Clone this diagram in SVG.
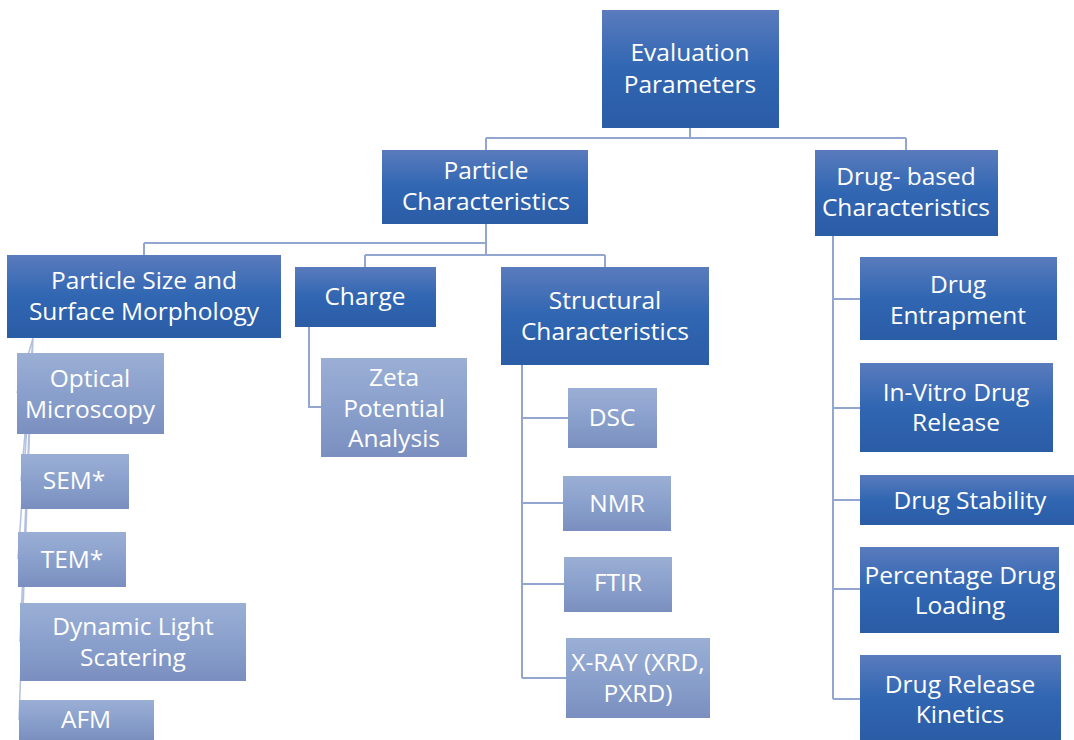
<svg xmlns="http://www.w3.org/2000/svg" width="1074" height="740" viewBox="0 0 1074 740">
<defs>
<linearGradient id="dk" x1="0" y1="0" x2="0" y2="1">
<stop offset="0" stop-color="#5a7bbd"/><stop offset="0.5" stop-color="#3066b2"/><stop offset="1" stop-color="#2b5ca6"/>
</linearGradient>
<linearGradient id="lt" x1="0" y1="0" x2="0" y2="1">
<stop offset="0" stop-color="#9bafd5"/><stop offset="0.5" stop-color="#8aa0cc"/><stop offset="1" stop-color="#7a8fbf"/>
</linearGradient>
</defs>
<style>
.dk{fill:url(#dk)}
.lt{fill:url(#lt)}
text{font-family:"Open Sans",Lato,"Liberation Sans",sans-serif;font-size:24.5px;fill:#ffffff;text-anchor:middle}
.c{fill:none;stroke:#93a6d0;stroke-width:2}
.cl{fill:none;stroke:#b3c1df;stroke-width:1.5}
</style>
<rect width="1074" height="740" fill="#ffffff"/>
<g id="connectors">
<path class="c" d="M690,128 V138 M486,138 H906 M486,138 V150 M906,138 V150"/>
<path class="c" d="M486,224 V255 M144,243 H486 M144,243 V255 M365,255 H605 M365,255 V267 M605,255 V267"/>
<path class="c" d="M309,327 V407 H321"/>
<path class="c" d="M522,365 V678 M522,418 H568 M522,503 H563 M522,584 H564 M522,678 H566"/>
<path class="c" d="M833,236 V699 M833,299 H860 M833,408 H860 M833,500 H860 M833,589 H860 M833,699 H860"/>
<path class="cl" d="M33,338 L17,393 M33,338 L21,481 M33,338 L18,559 M33,338 L20,642 M33,338 L19,720"/>
</g>
<g id="n-eval"><rect class="dk" x="602" y="10" width="177" height="118"/><text x="690" y="61">Evaluation</text><text x="690" y="93">Parameters</text></g>
<g id="n-particle"><rect class="dk" x="382" y="150" width="206" height="74"/><text x="486" y="179">Particle</text><text x="486" y="210">Characteristics</text></g>
<g id="n-drugbased"><rect class="dk" x="815" y="150" width="183" height="86"/><text x="906" y="185">Drug- based</text><text x="906" y="216">Characteristics</text></g>
<g id="n-size"><rect class="dk" x="7" y="255" width="274" height="83"/><text x="144" y="289">Particle Size and</text><text x="144" y="320">Surface Morphology</text></g>
<g id="n-charge"><rect class="dk" x="295" y="267" width="141" height="60"/><text x="365" y="305">Charge</text></g>
<g id="n-structural"><rect class="dk" x="501" y="267" width="208" height="98"/><text x="605" y="309">Structural</text><text x="605" y="340">Characteristics</text></g>
<g id="n-optical"><rect class="lt" x="17" y="353" width="147" height="81"/><text x="90" y="387">Optical</text><text x="90" y="418">Microscopy</text></g>
<g id="n-sem"><rect class="lt" x="21" y="454" width="108" height="55"/><text x="74" y="489">SEM*</text></g>
<g id="n-tem"><rect class="lt" x="18" y="532" width="108" height="55"/><text x="72" y="568">TEM*</text></g>
<g id="n-dls"><rect class="lt" x="20" y="603" width="226" height="78"/><text x="133" y="635">Dynamic Light</text><text x="133" y="666">Scatering</text></g>
<g id="n-afm"><rect class="lt" x="19" y="700" width="135" height="40"/><text x="86" y="728">AFM</text></g>
<g id="n-zeta"><rect class="lt" x="321" y="358" width="146" height="99"/><text x="394" y="386">Zeta</text><text x="394" y="417">Potential</text><text x="394" y="447">Analysis</text></g>
<g id="n-dsc"><rect class="lt" x="568" y="388" width="89" height="60"/><text x="612" y="426">DSC</text></g>
<g id="n-nmr"><rect class="lt" x="563" y="476" width="108" height="55"/><text x="617" y="512">NMR</text></g>
<g id="n-ftir"><rect class="lt" x="564" y="557" width="108" height="55"/><text x="618" y="591">FTIR</text></g>
<g id="n-xray"><rect class="lt" x="566" y="638" width="144" height="80"/><text x="638" y="671">X-RAY (XRD,</text><text x="638" y="702">PXRD)</text></g>
<g id="n-entrap"><rect class="dk" x="860" y="257" width="197" height="83"/><text x="958" y="293">Drug</text><text x="958" y="324">Entrapment</text></g>
<g id="n-invitro"><rect class="dk" x="860" y="363" width="193" height="89"/><text x="956" y="401">In-Vitro Drug</text><text x="956" y="431">Release</text></g>
<g id="n-stability"><rect class="dk" x="860" y="475" width="214" height="50"/><text x="970" y="509">Drug Stability</text></g>
<g id="n-loading"><rect class="dk" x="860" y="547" width="199" height="86"/><text x="960" y="584">Percentage Drug</text><text x="960" y="614">Loading</text></g>
<g id="n-kinetics"><rect class="dk" x="860" y="655" width="201" height="85"/><text x="960" y="693">Drug Release</text><text x="960" y="723">Kinetics</text></g>
</svg>
